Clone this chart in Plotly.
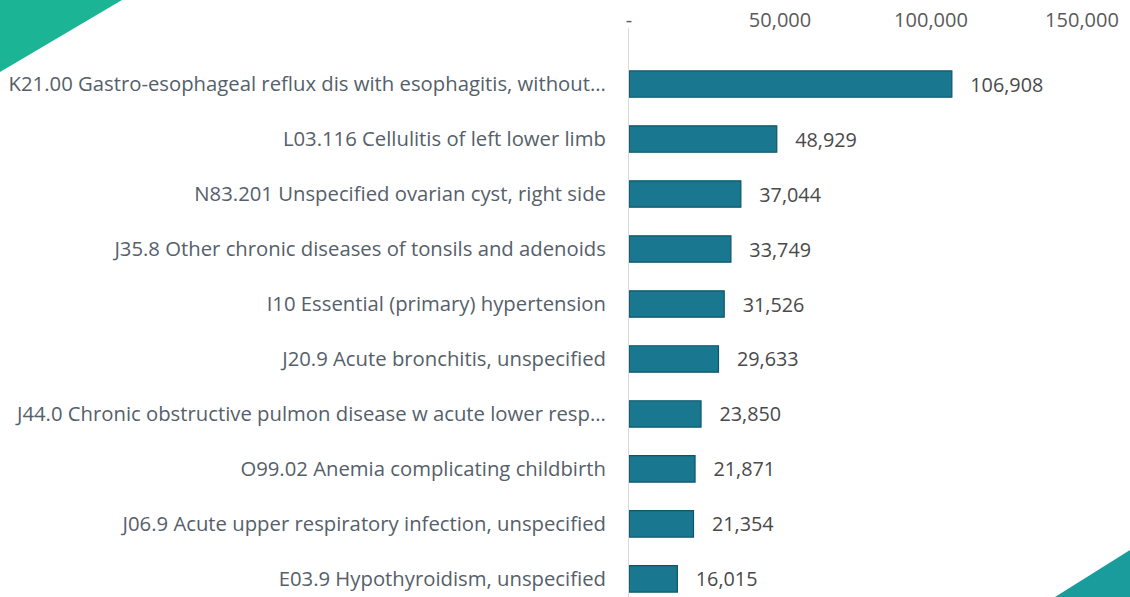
import plotly.graph_objects as go

categories = [
    "K21.00 Gastro-esophageal reflux dis with esophagitis, without...",
    "L03.116 Cellulitis of left lower limb",
    "N83.201 Unspecified ovarian cyst, right side",
    "J35.8 Other chronic diseases of tonsils and adenoids",
    "I10 Essential (primary) hypertension",
    "J20.9 Acute bronchitis, unspecified",
    "J44.0 Chronic obstructive pulmon disease w acute lower resp...",
    "O99.02 Anemia complicating childbirth",
    "J06.9 Acute upper respiratory infection, unspecified",
    "E03.9 Hypothyroidism, unspecified",
]
values = [106908, 48929, 37044, 33749, 31526, 29633, 23850, 21871, 21354, 16015]
tick_vals = [0, 50000, 100000, 150000]
tick_text = ["-", "50,000", "100,000", "150,000"]

FONT = "Open Sans"

fig = go.Figure()
fig.add_trace(go.Bar(
    x=values,
    y=categories,
    orientation="h",
    width=0.48,
    marker=dict(color="#197790", line=dict(color="#0d566a", width=1.2)),
    text=[f"\u00a0\u00a0\u00a0{v:,}" for v in values],
    textposition="outside",
    textfont=dict(family=FONT, size=21, color="#4a4a4a"),
    cliponaxis=False,
    hoverinfo="x+y",
))

W, H = 1130, 597
left, right = 629, 1082
top, bottom = 28, 597

fig.update_layout(
    width=W, height=H,
    margin=dict(l=left, r=W - right, t=top, b=H - bottom, autoexpand=False),
    plot_bgcolor="white",
    paper_bgcolor="white",
    showlegend=False,
    bargap=0.5,
    xaxis=dict(
        side="top",
        range=[0, 150000],
        tickvals=tick_vals,
        ticktext=tick_text,
        showgrid=False,
        zeroline=False,
        showline=False,
        ticks="",
        ticklabelstandoff=-4,
        tickfont=dict(family=FONT, size=20, color="#5a5a5a"),
    ),
    yaxis=dict(
        categoryorder="array",
        categoryarray=categories,
        range=[9.33, -1.02],
        showgrid=False,
        zeroline=False,
        showline=True,
        linecolor="#d9d9d9",
        linewidth=1,
        ticks="",
        ticklabelstandoff=18,
        tickfont=dict(family=FONT, size=20.3, color="#55606a"),
    ),
)

def px2x(px):
    return (px - left) / (right - left)

def py2y(py):
    return (bottom - py) / (bottom - top)

# decorative corner triangles
fig.add_shape(
    type="path", xref="paper", yref="paper",
    path=f"M {px2x(0)},{py2y(0)} L {px2x(122)},{py2y(0)} L {px2x(0)},{py2y(72)} Z",
    fillcolor="#1bb595", line=dict(width=0), layer="above",
)
fig.add_shape(
    type="path", xref="paper", yref="paper",
    path=f"M {px2x(1130)},{py2y(550)} L {px2x(1130)},{py2y(597)} L {px2x(1055)},{py2y(597)} Z",
    fillcolor="#1b9c9c", line=dict(width=0), layer="above",
)

fig.write_html(
    "out.html",
    config={"displayModeBar": False},
    post_script="document.body.style.margin='0';document.body.style.overflow='hidden';",
)
